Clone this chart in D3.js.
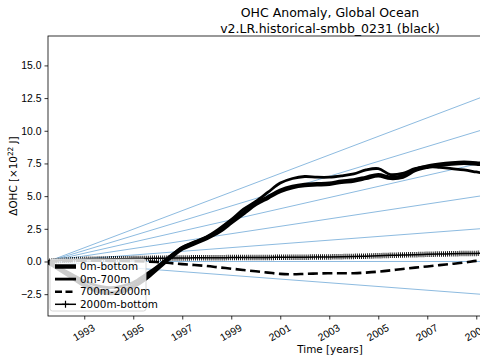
<!DOCTYPE html>
<html lang="en">
<head>
<meta charset="utf-8">
<title>OHC Anomaly</title>
<script src="https://cdn.jsdelivr.net/npm/d3@7"></script>
<style>
  body { margin: 0; background: #fff; }
  svg { font-family: "DejaVu Sans", sans-serif; display: block; }
</style>
</head>
<body>
<script>
// time axis of the black curves (years)
var time = [1991.5,1992,1992.5,1993,1993.5,1994,1994.5,1995,1995.5,1996,1996.5,1997,1997.5,1998,1998.5,1999,1999.5,2000,2000.5,2001,2001.5,2002,2002.5,2003,2003.5,2004,2004.5,2005,2005.5,2006,2006.5,2007,2007.5,2008,2008.5,2009,2009.5];

// OHC anomaly, x10^22 J
var ohcBottom = [0,-0.6,-1.2,-1.8,-2.2,-2.4,-2.3,-1.9,-1.3,-0.5,0.3,1.0,1.4,1.8,2.3,3.0,3.7,4.4,4.9,5.4,5.7,5.85,5.9,5.95,6.1,6.2,6.4,6.6,6.4,6.5,7.0,7.25,7.4,7.5,7.55,7.5,7.4];
var ohc700 = [0,-0.5,-1.0,-1.5,-1.85,-2.0,-1.9,-1.6,-1.0,-0.35,0.4,1.1,1.5,1.9,2.5,3.2,4.0,4.6,5.3,6.0,6.35,6.5,6.45,6.45,6.55,6.7,7.0,7.1,6.65,6.75,7.1,7.25,7.2,7.1,7.0,6.85,6.7];
var ohc2000 = [0,0.02,0.05,0.06,0.06,0.05,0.04,0.02,0,-0.05,-0.12,-0.2,-0.27,-0.35,-0.45,-0.55,-0.65,-0.75,-0.85,-0.95,-0.98,-0.95,-0.92,-0.9,-0.9,-0.9,-0.85,-0.78,-0.68,-0.57,-0.47,-0.38,-0.28,-0.18,-0.08,0.05,0.15];
var ohcDeep = [0,0.08,0.13,0.16,0.18,0.2,0.21,0.22,0.23,0.25,0.26,0.27,0.28,0.29,0.29,0.3,0.3,0.31,0.31,0.32,0.32,0.33,0.34,0.35,0.37,0.39,0.41,0.44,0.47,0.5,0.52,0.55,0.57,0.59,0.61,0.62,0.63];

// reference trend lines (x10^22 J per year) from the start point
var trendSlopes = [-0.142, 0, 0.142, 0.284, 0.426, 0.568, 0.71];

var yTicks = [-2.5, 0, 2.5, 5, 7.5, 10, 12.5, 15];
var xTicks = [1993,1995,1997,1999,2001,2003,2005,2007,2009,2011,2013];

var w = 480, h = 360;
var padL = 48, padT = 36, padR = 612, padB = 316;
var x0 = 1991.52, x1 = 2014.54;

var svg = d3.select("body").append("svg")
    .attr("width", w).attr("height", h);

var xScale = d3.scaleLinear().domain([x0, x1]).range([padL, padR]);
var yScale = d3.scaleLinear().domain([-4.17, 17.25]).range([padB, padT]);

svg.append("clipPath").attr("id", "plot")
  .append("rect").attr("x", padL).attr("y", padT)
  .attr("width", padR - padL).attr("height", padB - padT);

var plot = svg.append("g").attr("clip-path", "url(#plot)");

// blue trend lines
plot.selectAll("line.trend")
  .data(trendSlopes).enter()
  .append("line")
  .attr("class", "trend")
  .attr("x1", xScale(x0)).attr("y1", yScale(0))
  .attr("x2", xScale(x1))
  .attr("y2", function(d) { return yScale(d * (x1 - x0)); })
  .attr("stroke", "#8dbbe0")
  .attr("stroke-width", 1);

function series(vals) {
  return vals.map(function(v, i) { return [time[i], v]; });
}

var line = d3.line()
  .x(function(d) { return xScale(d[0]); })
  .y(function(d) { return yScale(d[1]); })
  .curve(d3.curveCatmullRom);

// 2000m-bottom: line with + markers
plot.append("path").datum(series(ohcDeep))
  .attr("d", line).attr("fill", "none")
  .attr("stroke", "#000").attr("stroke-width", 1.5);
plot.append("path").datum(series(ohcDeep))
  .attr("d", line).attr("fill", "none")
  .attr("stroke", "#000").attr("stroke-width", 5.5)
  .attr("stroke-dasharray", "0.9 1.15");

// 700m-2000m dashed
plot.append("path").datum(series(ohc2000))
  .attr("d", line).attr("fill", "none")
  .attr("stroke", "#000").attr("stroke-width", 2.6)
  .attr("stroke-dasharray", "10 4.5");

// 0m-700m
plot.append("path").datum(series(ohc700))
  .attr("d", line).attr("fill", "none")
  .attr("stroke", "#000").attr("stroke-width", 2.8);

// 0m-bottom
plot.append("path").datum(series(ohcBottom))
  .attr("d", line).attr("fill", "none")
  .attr("stroke", "#000").attr("stroke-width", 4.5);

// axes
var xAxis = d3.axisBottom(xScale).tickValues(xTicks)
  .tickFormat(d3.format("d")).tickSize(3.5).tickPadding(3);
var gx = svg.append("g")
  .attr("transform", "translate(0," + padB + ")")
  .call(xAxis);
gx.select(".domain").remove();
gx.selectAll("text")
  .attr("font-size", 10.4)
  .attr("fill", "#000")
  .attr("text-anchor", "end")
  .attr("dy", "0.7em")
  .attr("transform", "translate(4,2) rotate(-30)");

var yAxis = d3.axisLeft(yScale).tickValues(yTicks)
  .tickFormat(function(d) { return d3.format(".1f")(d).replace("-", "\u2212"); })
  .tickSize(3.5).tickPadding(3);
var gy = svg.append("g")
  .attr("transform", "translate(" + padL + ",0)")
  .call(yAxis);
gy.select(".domain").remove();
gy.selectAll("text").attr("font-size", 10.4).attr("fill", "#000");

svg.selectAll(".tick line").attr("stroke", "#000").attr("stroke-width", 0.8);

// spines
svg.append("rect")
  .attr("x", padL).attr("y", padT)
  .attr("width", padR - padL).attr("height", padB - padT)
  .attr("fill", "none").attr("stroke", "#000").attr("stroke-width", 0.8);

// legend
var legendItems = ["0m-bottom", "0m-700m", "700m-2000m", "2000m-bottom"];
var lg = svg.append("g").attr("transform", "translate(50,259)");
lg.append("rect")
  .attr("width", 96).attr("height", 52).attr("rx", 2.5)
  .attr("fill", "#fff").attr("fill-opacity", 0.8)
  .attr("stroke", "#cccccc").attr("stroke-width", 0.8);
var styles = [
  {sw: 4.5, dash: null},
  {sw: 2.8, dash: null},
  {sw: 2.6, dash: "7 3.5"},
  {sw: 1.5, dash: null}
];
legendItems.forEach(function(name, i) {
  var yy = 7.5 + i * 12.6;
  lg.append("line")
    .attr("x1", 5).attr("x2", 26).attr("y1", yy).attr("y2", yy)
    .attr("stroke", "#000").attr("stroke-width", styles[i].sw)
    .attr("stroke-dasharray", styles[i].dash);
  if (i === 3) {
    lg.append("path")
      .attr("d", "M" + 15.5 + "," + (yy - 3.5) + "v7M" + 12 + "," + yy + "h7")
      .attr("stroke", "#000").attr("stroke-width", 1.2);
  }
  lg.append("text")
    .attr("x", 30).attr("y", yy).attr("dy", "0.35em")
    .attr("font-size", 10.4).text(name);
});

// title and labels
var cx = (padL + padR) / 2;
svg.append("text").attr("x", cx).attr("y", 17)
  .attr("text-anchor", "middle").attr("font-size", 12.5)
  .text("OHC Anomaly, Global Ocean");
svg.append("text").attr("x", cx).attr("y", 33)
  .attr("text-anchor", "middle").attr("font-size", 12.5)
  .text("v2.LR.historical-smbb_0231 (black)");

svg.append("text").attr("x", cx).attr("y", 353)
  .attr("text-anchor", "middle").attr("font-size", 10.4)
  .text("Time [years]");

var yl = svg.append("text")
  .attr("transform", "translate(17," + ((padT + padB) / 2) + ") rotate(-90)")
  .attr("text-anchor", "middle").attr("font-size", 10.4);
yl.append("tspan").text("\u0394OHC [\u00d710");
yl.append("tspan").attr("font-size", 7.3).attr("dy", -4).text("22");
yl.append("tspan").attr("dy", 4).text(" J]");
</script>
</body>
</html>
